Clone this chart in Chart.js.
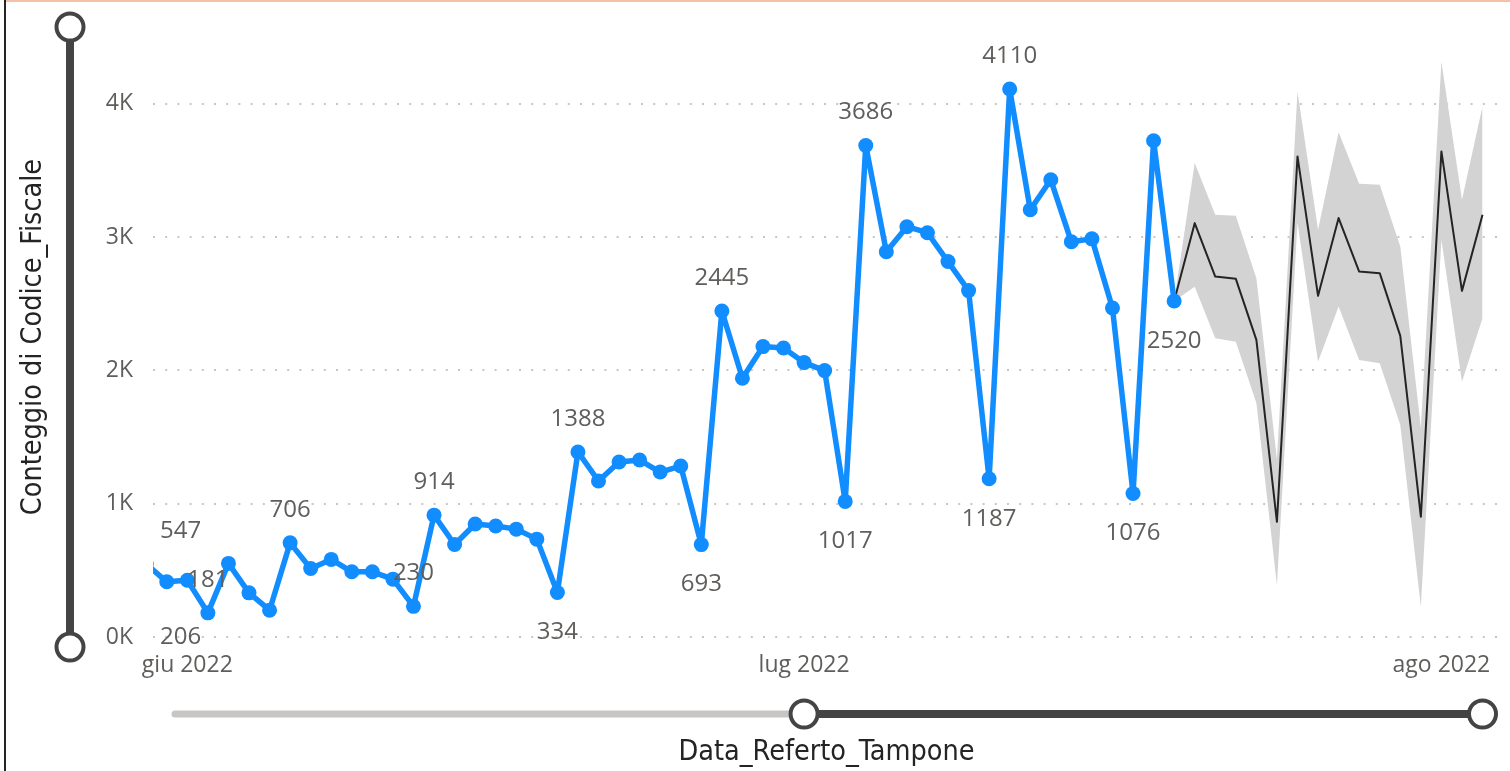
<!DOCTYPE html>
<html>
<head>
<meta charset="utf-8">
<title>Conteggio di Codice_Fiscale per Data_Referto_Tampone</title>
<script src="https://cdn.jsdelivr.net/npm/chart.js@4.4.1/dist/chart.umd.min.js"></script>
<style>
  html, body { margin: 0; padding: 0; background: #fff; overflow: hidden; }
  #wrap { position: relative; width: 1510px; height: 771px; }
  #chart { position: absolute; left: 0; top: 0; }
  #frame { position: absolute; left: 4px; top: 0; width: 2px; height: 771px; background: #252423; }
  #topline { position: absolute; left: 6px; top: 0; right: 0; height: 2px; background: #f5c1a6; }
</style>
</head>
<body>
<div id="wrap">
  <canvas id="chart" width="1510" height="771"></canvas>
  <div id="frame"></div>
  <div id="topline"></div>
</div>
<script>
// x values are days counted from 1 June 2022 (giu 2022 = day 0)
const firstDay = -3;
const actualValues = [206, 547, 414, 426, 181, 552, 331, 201, 706, 514, 582, 489, 489, 434,
  230, 914, 694, 847, 832, 809, 734, 334, 1388, 1170, 1312, 1327, 1237, 1282, 693, 2445,
  1941, 2178, 2168, 2058, 1998, 1017, 3686, 2889, 3077, 3032, 2816, 2598, 1187, 4110,
  3204, 3429, 2964, 2986, 2468, 1076, 3722, 2520];

// forecast starts at the last real point (day 48)
const forecastStart = 48;
const forecastValues = [2520, 3104, 2703, 2686, 2228, 864, 3604, 2559, 3142, 2741, 2729, 2258, 902, 3642, 2596, 3167];
const upperBound = [2520, 3555, 3167, 3159, 2691, 1334, 4092, 3054, 3785, 3399, 3392, 2929, 1570, 4315, 3279, 3980];
const lowerBound = [2520, 2626, 2241, 2215, 1755, 389, 3107, 2065, 2478, 2078, 2053, 1590, 226, 2979, 1915, 2391];

// indices into actualValues that carry a data label
const labelAbove = [1, 4, 8, 14, 15, 22, 29, 36, 43];
const labelBelow = [0, 21, 28, 35, 42, 49, 51];

const xTickDays = [0, 30, 61];
const xTickLabels = ['giu 2022', 'lug 2022', 'ago 2022'];
const yTickValues = [0, 1000, 2000, 3000, 4000];
const yTickLabels = ['0K', '1K', '2K', '3K', '4K'];

const BLUE = '#118DFF';
const TEXT_GREY = '#605E5C';
const SLIDER_DARK = '#444444';
const TITLE_FONT = "'DejaVu Sans Condensed', 'Liberation Sans Narrow', 'Roboto', sans-serif";

const toPoints = (arr, start) => arr.map((v, i) => ({ x: start + i, y: v }));

// data labels on the peaks / dips, kept inside the plot area
const valueLabels = {
  id: 'valueLabels',
  afterDatasetsDraw(chart) {
    const { ctx, chartArea } = chart;
    const meta = chart.getDatasetMeta(0);
    ctx.save();
    ctx.font = "24px 'Open Sans'";
    ctx.fillStyle = TEXT_GREY;
    ctx.textAlign = 'center';
    ctx.textBaseline = 'middle';
    const draw = (idx, dy) => {
      const pt = meta.data[idx];
      const text = String(actualValues[idx]);
      const w = ctx.measureText(text).width;
      const x = Math.max(pt.x, chartArea.left + 7 + w / 2);
      const y = Math.min(pt.y + dy, chartArea.bottom);
      ctx.fillText(text, x, y);
    };
    labelAbove.forEach(i => draw(i, -33));
    labelBelow.forEach(i => draw(i, 40));
    ctx.restore();
  }
};

// zoom sliders of the visual
const sliders = {
  id: 'sliders',
  afterDraw(chart) {
    const { ctx, chartArea, scales } = chart;
    const knob = (x, y) => {
      ctx.beginPath();
      ctx.arc(x, y, 13.5, 0, Math.PI * 2);
      ctx.fillStyle = '#fff';
      ctx.fill();
      ctx.lineWidth = 4;
      ctx.strokeStyle = SLIDER_DARK;
      ctx.stroke();
    };
    ctx.save();
    ctx.lineCap = 'round';
    // vertical
    const vx = 70, vTop = chartArea.top - 10, vBot = chartArea.bottom + 10;
    ctx.beginPath();
    ctx.moveTo(vx, vTop);
    ctx.lineTo(vx, vBot);
    ctx.lineWidth = 8;
    ctx.strokeStyle = SLIDER_DARK;
    ctx.stroke();
    knob(vx, vTop);
    knob(vx, vBot);
    // horizontal
    const hy = 714;
    const hStart = chartArea.left + 22;
    const hMid = scales.x.getPixelForValue(30);
    const hEnd = scales.x.getPixelForValue(63);
    ctx.beginPath();
    ctx.moveTo(hStart, hy);
    ctx.lineTo(hMid, hy);
    ctx.lineWidth = 7;
    ctx.strokeStyle = '#C8C6C4';
    ctx.stroke();
    ctx.beginPath();
    ctx.moveTo(hMid, hy);
    ctx.lineTo(hEnd, hy);
    ctx.lineWidth = 8;
    ctx.strokeStyle = SLIDER_DARK;
    ctx.stroke();
    knob(hMid, hy);
    knob(hEnd, hy);
    ctx.restore();
  }
};

new Chart(document.getElementById('chart'), {
  type: 'line',
  data: {
    datasets: [
      {
        label: 'Conteggio di Codice_Fiscale',
        data: toPoints(actualValues, firstDay),
        borderColor: BLUE,
        backgroundColor: BLUE,
        borderWidth: 5.5,
        borderJoinStyle: 'round',
        borderCapStyle: 'round',
        pointRadius: 7.5,
        pointBorderWidth: 0,
        tension: 0
      },
      {
        label: 'Previsione',
        data: toPoints(forecastValues, forecastStart),
        borderColor: '#252423',
        borderWidth: 2,
        borderJoinStyle: 'round',
        pointRadius: 0,
        tension: 0
      },
      {
        label: 'Limite superiore',
        data: toPoints(upperBound, forecastStart),
        borderWidth: 0,
        pointRadius: 0,
        backgroundColor: '#D3D3D3',
        fill: '+1',
        tension: 0
      },
      {
        label: 'Limite inferiore',
        data: toPoints(lowerBound, forecastStart),
        borderWidth: 0,
        pointRadius: 0,
        fill: false,
        tension: 0
      }
    ]
  },
  options: {
    responsive: false,
    animation: false,
    events: [],
    layout: { padding: { left: 0, top: 37, right: 10, bottom: 0 } },
    plugins: {
      legend: { display: false },
      tooltip: { enabled: false }
    },
    scales: {
      x: {
        type: 'linear',
        min: -1.67,
        max: 63.85,
        afterFit(scale) { scale.height = 134; },
        afterBuildTicks(scale) { scale.ticks = xTickDays.map(v => ({ value: v })); },
        ticks: {
          autoSkip: false,
          maxRotation: 0,
          padding: 15,
          color: TEXT_GREY,
          font: { family: 'Open Sans', size: 23 },
          callback: (v, i) => xTickLabels[i]
        },
        grid: { display: false, drawTicks: false },
        border: { display: false },
        title: {
          display: true,
          text: 'Data_Referto_Tampone',
          color: '#252423',
          font: { family: TITLE_FONT, size: 28.5 },
          padding: { top: 0, bottom: 1 }
        }
      },
      y: {
        min: 0,
        max: 4500,
        afterFit(scale) { scale.width = 153; },
        afterBuildTicks(scale) { scale.ticks = yTickValues.map(v => ({ value: v })); },
        ticks: {
          padding: 20,
          color: TEXT_GREY,
          font: { family: 'Open Sans', size: 23 },
          callback: (v, i) => yTickLabels[i]
        },
        grid: { color: '#C8C6C4', lineWidth: 2, drawTicks: false },
        border: { display: false, dash: [2, 10.2] },
        title: {
          display: true,
          text: 'Conteggio di Codice_Fiscale',
          color: '#252423',
          font: { family: TITLE_FONT, size: 28.5 },
          padding: { top: 16, bottom: 0 }
        }
      }
    }
  },
  plugins: [valueLabels, sliders]
});
</script>
</body>
</html>
